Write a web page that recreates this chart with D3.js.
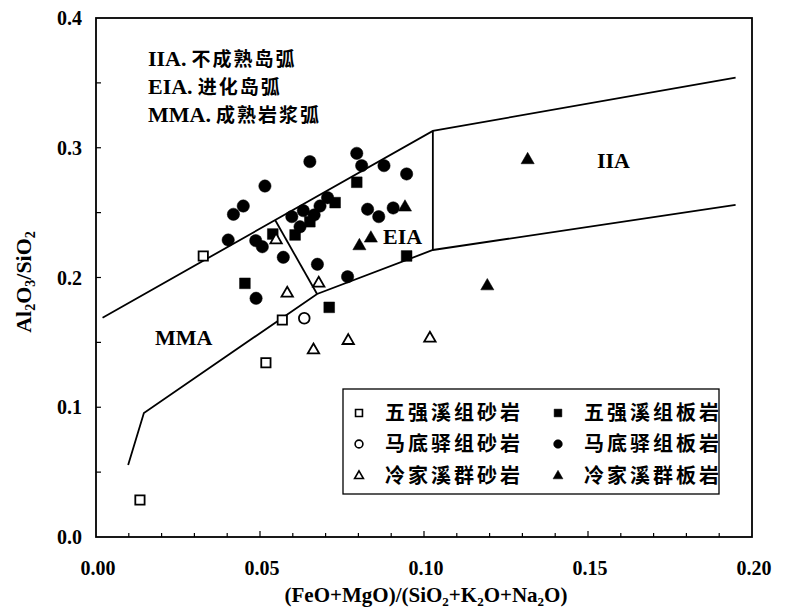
<!DOCTYPE html>
<html>
<head>
<meta charset="utf-8">
<script src="https://cdn.jsdelivr.net/npm/d3@7"></script>
<style>
  body { margin: 0; background: #fff; }
  text { font-family: "Liberation Serif", "Times New Roman", serif; font-weight: bold; fill: #000; }
  .cjk { font-family: "Noto Sans CJK SC", sans-serif; font-weight: bold; }
</style>
</head>
<body>
<svg id="chart" width="788" height="609"></svg>
<script>
// ---- data ----
let xTicks = [0.00, 0.05, 0.10, 0.15, 0.20];
let yTicks = [0.0, 0.1, 0.2, 0.3, 0.4];

// field boundaries
let upperLine = [[0.002, 0.169], [0.1027, 0.313], [0.195, 0.354]];
let lowerLine = [[0.0098, 0.0555], [0.0146, 0.0956], [0.0674, 0.1873], [0.1027, 0.2212], [0.195, 0.256]];
let mmaEiaLine = [[0.0546, 0.2443], [0.0674, 0.1873]];
let eiaIiaLine = [[0.1027, 0.313], [0.1027, 0.2212]];

// 五强溪组砂岩
let wqxSand = [[0.0327, 0.2166], [0.0568, 0.1672], [0.0518, 0.1343], [0.0134, 0.0285]];
// 五强溪组板岩
let wqxSlate = [[0.0795, 0.2734], [0.0729, 0.2577], [0.0652, 0.2430], [0.0539, 0.2335],
  [0.0607, 0.2328], [0.0947, 0.2166], [0.0454, 0.1955], [0.0711, 0.1770]];
// 马底驿组砂岩
let mdySand = [[0.0635, 0.1686]];
// 马底驿组板岩
let mdySlate = [[0.0795, 0.2957], [0.0652, 0.2893], [0.0810, 0.2862], [0.0878, 0.2862],
  [0.0947, 0.2798], [0.0515, 0.2705], [0.0449, 0.2551], [0.0419, 0.2487], [0.0706, 0.2615],
  [0.0683, 0.2551], [0.0632, 0.2515], [0.0597, 0.2469], [0.0665, 0.2482], [0.0622, 0.2391],
  [0.0828, 0.2526], [0.0862, 0.2469], [0.0906, 0.2536], [0.0403, 0.2289], [0.0487, 0.2284],
  [0.0507, 0.2237], [0.0571, 0.2156], [0.0675, 0.2102], [0.0767, 0.2006], [0.0488, 0.1840]];
// 冷家溪群砂岩
let ljxSand = [[0.0549, 0.2289], [0.0583, 0.1878], [0.0679, 0.1955], [0.0663, 0.1441],
  [0.0769, 0.1513], [0.1018, 0.1531]];
// 冷家溪群板岩
let ljxSlate = [[0.0942, 0.2541], [0.0803, 0.2243], [0.0838, 0.2302], [0.1316, 0.2906], [0.1193, 0.1934]];

let series = [
  {name: "五强溪组砂岩", data: wqxSand, shape: d3.symbolSquare, open: true},
  {name: "五强溪组板岩", data: wqxSlate, shape: d3.symbolSquare, open: false},
  {name: "马底驿组砂岩", data: mdySand, shape: d3.symbolCircle, open: true},
  {name: "马底驿组板岩", data: mdySlate, shape: d3.symbolCircle, open: false},
  {name: "冷家溪群砂岩", data: ljxSand, shape: d3.symbolTriangle, open: true},
  {name: "冷家溪群板岩", data: ljxSlate, shape: d3.symbolTriangle, open: false}
];

let notes = [["IIA.", "不成熟岛弧"], ["EIA.", "进化岛弧"], ["MMA.", "成熟岩浆弧"]];

// ---- layout ----
let svg = d3.select("#chart");
let plot_left = 96, plot_right = 752, plot_top = 18, plot_bottom = 537;

let x = d3.scaleLinear().domain([0, 0.2]).range([plot_left, plot_right]);
let y = d3.scaleLinear().domain([0, 0.4]).range([plot_bottom, plot_top]);

// ticks (inward)
let g = svg.append("g");
g.selectAll(".xminor").data(d3.range(1, 20)).enter().append("line")
  .attr("x1", d => x(d / 100)).attr("x2", d => x(d / 100))
  .attr("y1", plot_bottom).attr("y2", d => plot_bottom - (d % 5 === 0 ? 6 : 4))
  .attr("stroke", "black").attr("stroke-width", 1.2);
g.selectAll(".yminor").data(d3.range(1, 8)).enter().append("line")
  .attr("y1", d => y(d * 0.05)).attr("y2", d => y(d * 0.05))
  .attr("x1", plot_left).attr("x2", plot_left + 5)
  .attr("stroke", "black").attr("stroke-width", 1.2);

g.selectAll(".xlab").data(xTicks).enter().append("text")
  .attr("x", d => x(d) + 2).attr("y", 575)
  .attr("text-anchor", "middle").attr("font-size", 20)
  .text(d => d.toFixed(2));
g.selectAll(".ylab").data(yTicks).enter().append("text")
  .attr("x", 82).attr("y", d => y(d) + 7)
  .attr("text-anchor", "end").attr("font-size", 20)
  .text(d => d.toFixed(1));

// frame
svg.append("rect").attr("x", plot_left).attr("y", plot_top)
  .attr("width", plot_right - plot_left).attr("height", plot_bottom - plot_top)
  .attr("fill", "none").attr("stroke", "black").attr("stroke-width", 1.8);

// axis titles
let xt = svg.append("text").attr("x", 426).attr("y", 602)
  .attr("text-anchor", "middle").attr("font-size", 21);
xt.append("tspan").text("(FeO+MgO)/(SiO");
xt.append("tspan").attr("font-size", 13).attr("dy", 4).text("2");
xt.append("tspan").attr("dy", -4).text("+K");
xt.append("tspan").attr("font-size", 13).attr("dy", 4).text("2");
xt.append("tspan").attr("dy", -4).text("O+Na");
xt.append("tspan").attr("font-size", 13).attr("dy", 4).text("2");
xt.append("tspan").attr("dy", -4).text("O)");

let yt = svg.append("text").attr("transform", "translate(31,282) rotate(-90)")
  .attr("text-anchor", "middle").attr("font-size", 22);
yt.append("tspan").text("Al");
yt.append("tspan").attr("font-size", 14).attr("dy", 4).text("2");
yt.append("tspan").attr("dy", -4).text("O");
yt.append("tspan").attr("font-size", 14).attr("dy", 4).text("3");
yt.append("tspan").attr("dy", -4).text("/SiO");
yt.append("tspan").attr("font-size", 14).attr("dy", 4).text("2");

// field boundaries
let line = d3.line().x(d => x(d[0])).y(d => y(d[1]));
[upperLine, lowerLine, mmaEiaLine, eiaIiaLine].forEach(function(l){
  svg.append("path").attr("d", line(l))
    .attr("fill", "none").attr("stroke", "black").attr("stroke-width", 1.8);
});

// field labels
svg.append("text").attr("x", 597).attr("y", 168).attr("font-size", 22).text("IIA");
svg.append("text").attr("x", 383).attr("y", 244).attr("font-size", 22).text("EIA");
svg.append("text").attr("x", 155).attr("y", 345).attr("font-size", 22).text("MMA");

let nt = svg.selectAll(".note").data(notes).enter().append("text")
  .attr("x", 148).attr("y", (d, i) => 66 + i * 28).attr("font-size", 22);
nt.append("tspan").text(d => d[0]);
nt.append("tspan").attr("class", "cjk").attr("dx", 5).attr("font-size", 19)
  .attr("letter-spacing", 2).text(d => d[1]);

// points
function symSize(s, big){
  if (s === d3.symbolCircle) return big ? 120 : 60;
  if (s === d3.symbolSquare) return big ? 115 : 60;
  return big ? 75 : 42;
}
series.forEach(function(s){
  let sym = d3.symbol().type(s.shape).size(symSize(s.shape, true) * (s.open ? 0.75 : 1));
  svg.append("g").selectAll("path").data(s.data).enter().append("path")
    .attr("transform", d => "translate(" + x(d[0]) + "," + y(d[1]) + ")")
    .attr("d", sym)
    .attr("fill", s.open ? "white" : "black")
    .attr("stroke", "black").attr("stroke-width", s.open ? 1.8 : 0.5);
});

// legend
let lg = svg.append("g");
lg.append("rect").attr("x", 343).attr("y", 389).attr("width", 376).attr("height", 105)
  .attr("fill", "white").attr("stroke", "black").attr("stroke-width", 1.3);
let items = lg.selectAll(".item").data(series).enter().append("g")
  .attr("transform", (d, i) => "translate(" + (i % 2 === 0 ? 359 : 558) + "," + [413, 444, 476][Math.floor(i / 2)] + ")");
items.append("path")
  .attr("d", d => d3.symbol().type(d.shape).size(symSize(d.shape, false) * (d.open ? 0.8 : 1))())
  .attr("fill", d => d.open ? "white" : "black")
  .attr("stroke", "black").attr("stroke-width", d => d.open ? 1.6 : 0.5);
items.append("text").attr("class", "cjk")
  .attr("x", d => 26).attr("y", 7).attr("font-size", 20)
  .attr("letter-spacing", 3)
  .text(d => d.name);
</script>
</body>
</html>
